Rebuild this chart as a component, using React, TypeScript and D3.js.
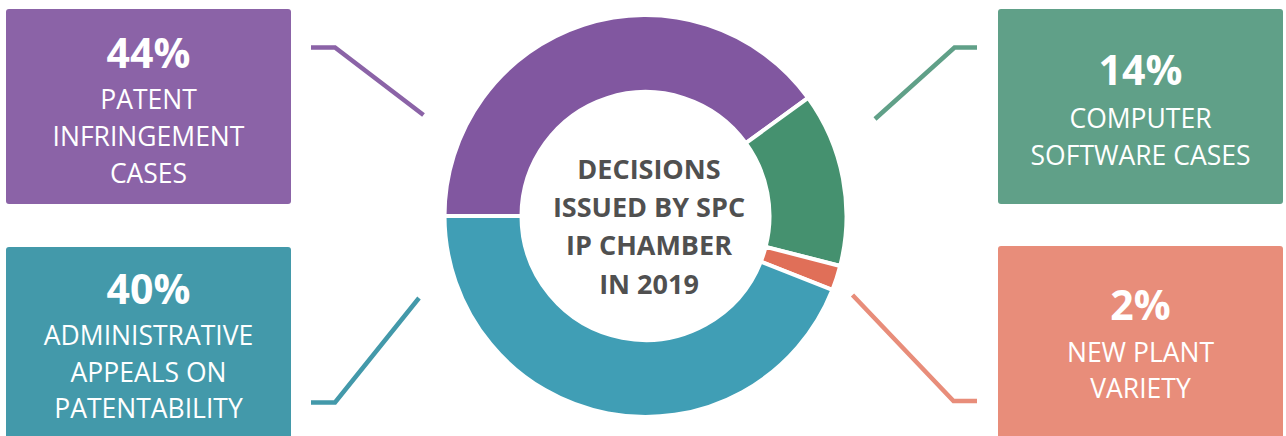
import React from "react";
import * as d3 from "d3";

const categories = [
  "PATENT INFRINGEMENT CASES",
  "COMPUTER SOFTWARE CASES",
  "NEW PLANT VARIETY",
  "ADMINISTRATIVE APPEALS ON PATENTABILITY",
];
// slice sizes as drawn in the ring (percent)
const sliceValues = [40, 14, 2, 44];
// percentages printed in the boxes
const labelPercents = ["44%", "14%", "2%", "40%"];
const labelLines = [
  ["PATENT", "INFRINGEMENT", "CASES"],
  ["COMPUTER", "SOFTWARE CASES"],
  ["NEW PLANT", "VARIETY"],
  ["ADMINISTRATIVE", "APPEALS ON", "PATENTABILITY"],
];
const centerLines = ["DECISIONS", "ISSUED BY SPC", "IP CHAMBER", "IN 2019"];

const arcColors = ["#8157A0", "#45916F", "#E06F58", "#409EB5"];
const boxColors = ["#8B63A7", "#60A088", "#E88D7A", "#4399AA"];

const W = 1286;
const H = 436;
const cx = 645.5;
const cy = 216;
const outerR = 201;
const innerR = 124;

const boxes = [
  { x: 6, y: 9, w: 285, h: 195, pb: 67.5, lb: 109.3 },
  { x: 998, y: 9, w: 285, h: 195, pb: 85, lb: 128.3 },
  { x: 998, y: 246, w: 285, h: 195, pb: 320, lb: 361.7 },
  { x: 6, y: 247, w: 285, h: 195, pb: 304, lb: 345 },
];

const connectors = [
  [[311, 47.5], [335, 47.5], [423.5, 115]],
  [[977, 47.5], [954.5, 47.5], [875, 119]],
  [[852.5, 295], [953.5, 401], [977, 401]],
  [[311, 402.5], [335, 402.5], [419, 298]],
];

export default function App() {
  const pie = d3
    .pie<number>()
    .sort(null)
    .startAngle(-Math.PI / 2)
    .endAngle((3 * Math.PI) / 2);
  const arcs = pie(sliceValues);
  const arcGen = d3.arc<d3.PieArcDatum<number>>().innerRadius(innerR).outerRadius(outerR);
  const line = d3.line();
  const font = "'Open Sans', sans-serif";

  return (
    <svg
      width={W}
      height={H}
      style={{ position: "absolute", left: 0, top: 0, background: "#fff" }}
    >
      <g transform={`translate(${cx},${cy})`}>
        {arcs.map((a, i) => (
          <path
            key={categories[i]}
            d={arcGen(a) || ""}
            fill={arcColors[i]}
            stroke="#fff"
            strokeWidth={4}
            strokeLinejoin="miter"
          />
        ))}
      </g>
      {centerLines.map((t, i) => (
        <text
          key={t}
          x={649}
          y={179 + i * 38.2}
          textAnchor="middle"
          fontFamily={font}
          fontWeight={700}
          fontSize={27}
          fill="#505050"
        >
          {t}
        </text>
      ))}
      {connectors.map((pts, i) => (
        <path
          key={"c" + i}
          d={line(pts as [number, number][]) || ""}
          fill="none"
          stroke={boxColors[i]}
          strokeWidth={4.5}
          strokeLinejoin="miter"
        />
      ))}
      {boxes.map((b, i) => {
        const mx = b.x + b.w / 2;
        return (
          <g key={"b" + i}>
            <rect x={b.x} y={b.y} width={b.w} height={b.h} rx={3} fill={boxColors[i]} />
            <text
              x={mx}
              y={b.pb}
              textAnchor="middle"
              fontFamily={font}
              fontWeight={700}
              fontSize={41}
              fill="#fff"
            >
              {labelPercents[i]}
            </text>
            {labelLines[i].map((t, j) => (
              <text
                key={t}
                x={mx}
                y={b.lb + j * 36.7}
                textAnchor="middle"
                fontFamily={font}
                fontSize={26.5}
                fill="#fff"
              >
                {t}
              </text>
            ))}
          </g>
        );
      })}
    </svg>
  );
}
